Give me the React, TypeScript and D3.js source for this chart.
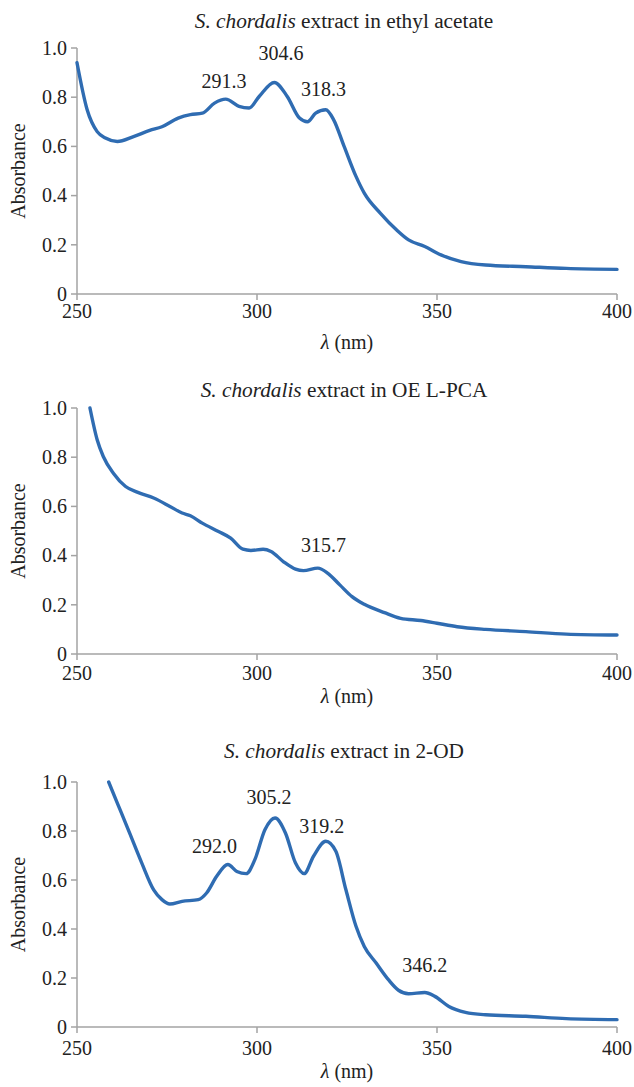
import * as d3 from "d3"

// wavelength (nm) / absorbance pairs
const eaNm = [250, 252.8, 255.6, 257.9, 261.2, 265.7, 270.2, 273.6, 278.1, 281.5, 284.8, 288.2, 291.3, 295, 297.8, 300.6, 304.8, 308.4, 311.8, 314, 316.3, 319.1, 321.3, 324.2, 327.5, 329.8, 334.3, 338.8, 342.1, 346.6, 351.1, 356.7, 363.5, 374.7, 385.9, 400]
const eaAbs = [0.94, 0.75, 0.66, 0.634, 0.62, 0.64, 0.665, 0.68, 0.715, 0.729, 0.735, 0.776, 0.792, 0.763, 0.756, 0.803, 0.86, 0.803, 0.715, 0.70, 0.735, 0.749, 0.708, 0.60, 0.478, 0.41, 0.328, 0.26, 0.22, 0.193, 0.159, 0.132, 0.118, 0.111, 0.104, 0.10]

const pcaNm = [253.6, 255.6, 257.3, 260.1, 263.5, 266.9, 271.3, 275.8, 279.2, 281.5, 284.8, 289.3, 292.7, 296.1, 298.3, 301.7, 303.9, 307.3, 310.7, 312.9, 316.9, 319.7, 323, 326.4, 329.8, 335.4, 339.9, 345.5, 350, 355.6, 363.5, 374.7, 385.9, 400]
const pcaAbs = [1.0, 0.871, 0.803, 0.735, 0.681, 0.657, 0.634, 0.60, 0.573, 0.562, 0.532, 0.498, 0.471, 0.426, 0.421, 0.426, 0.417, 0.376, 0.345, 0.339, 0.349, 0.328, 0.281, 0.233, 0.202, 0.168, 0.145, 0.136, 0.125, 0.111, 0.10, 0.091, 0.081, 0.077]

const odNm = [258.8, 261.2, 264.6, 268, 271.3, 273.6, 275.8, 279.2, 283.7, 286, 288.8, 291.9, 294.4, 297, 299.4, 302.2, 305, 307.9, 310.7, 313.1, 315.7, 319.1, 321.9, 324.7, 327.5, 329.8, 333.1, 336.5, 339.3, 342.1, 346.6, 349.4, 353.3, 357.9, 363.5, 374.7, 385.9, 400]
const odAbs = [1.0, 0.914, 0.792, 0.669, 0.56, 0.52, 0.502, 0.513, 0.52, 0.547, 0.615, 0.663, 0.635, 0.626, 0.683, 0.805, 0.853, 0.792, 0.669, 0.626, 0.697, 0.758, 0.717, 0.56, 0.411, 0.329, 0.261, 0.193, 0.15, 0.136, 0.141, 0.125, 0.084, 0.06, 0.05, 0.044, 0.034, 0.03]

// peak labels: text, anchor wavelength, anchor absorbance
const eaPeaks = ["291.3", "304.6", "318.3"]
const eaPeakNm = [290.8, 306.7, 318.5]
const eaPeakAbs = [0.839, 0.951, 0.803]

const pcaPeaks = ["315.7"]
const pcaPeakNm = [318.5]
const pcaPeakAbs = [0.415]

const odPeaks = ["292.0", "305.2", "319.2", "346.2"]
const odPeakNm = [288.2, 303.3, 318, 346.6]
const odPeakAbs = [0.71, 0.91, 0.792, 0.224]

const xTicks = [250, 300, 350, 400]
const yTicks = [0, 0.2, 0.4, 0.6, 0.8, 1.0]
const solvents = ["ethyl acetate", "OE L-PCA", "2-OD"]

const AXIS = "#a3a3a3"
const LINE = "#2f6cb2"
const txt = { fontFamily: "\"Liberation Serif\", serif", fontSize: 20, fill: "#222" }

interface PanelProps {
  solvent: string
  nm: number[]
  abs: number[]
  peaks: string[]
  peakNm: number[]
  peakAbs: number[]
  top: number
  bottom: number
  titleY: number
  tickY: number
  labelY: number
}

function Panel(p: PanelProps) {
  const x = d3.scaleLinear().domain([250, 400]).range([77, 617])
  const y = d3.scaleLinear().domain([0, 1]).range([p.bottom, p.top])
  const pts = p.nm.map((n, i) => [n, p.abs[i]] as [number, number])
  const line = d3.line<[number, number]>()
    .x(d => x(d[0]))
    .y(d => y(d[1]))
    .curve(d3.curveMonotoneX)

  return (
    <g>
      <text x={344} y={p.titleY} textAnchor="middle" style={{ ...txt, fontSize: 21.3 }}>
        <tspan fontStyle="italic">S. chordalis</tspan> extract in {p.solvent}
      </text>

      <line x1={x(250)} x2={x(250)} y1={y(1)} y2={y(0)} stroke={AXIS} strokeWidth={1.5} />
      <line x1={x(250)} x2={x(400)} y1={y(0)} y2={y(0)} stroke={AXIS} strokeWidth={1.5} />

      {yTicks.map(t => (
        <g key={"y" + t}>
          <line x1={x(250) - 6} x2={x(250)} y1={y(t)} y2={y(t)} stroke={AXIS} strokeWidth={1.5} />
          <text x={67} y={y(t)} dy="0.34em" textAnchor="end" style={txt}>
            {t === 0 ? "0" : t.toFixed(1)}
          </text>
        </g>
      ))}
      {xTicks.map(t => (
        <g key={"x" + t}>
          <line x1={x(t)} x2={x(t)} y1={y(0)} y2={y(0) + 6} stroke={AXIS} strokeWidth={1.5} />
          <text x={x(t)} y={p.tickY} textAnchor="middle" style={txt}>{t}</text>
        </g>
      ))}

      <text x={347} y={p.labelY} textAnchor="middle" style={txt}>
        <tspan fontStyle="italic">λ</tspan> (nm)
      </text>
      <text
        transform={`translate(25,${(p.top + p.bottom) / 2}) rotate(-90)`}
        textAnchor="middle" style={txt}
      >Absorbance</text>

      <path d={line(pts) || ""} fill="none" stroke={LINE} strokeWidth={3.4} strokeLinejoin="round" strokeLinecap="round" />

      {p.peaks.map((lab, i) => (
        <text key={lab} x={x(p.peakNm[i])} y={y(p.peakAbs[i])} textAnchor="middle" style={txt}>{lab}</text>
      ))}
    </g>
  )
}

export default function App() {
  return (
    <svg width={634} height={1087} style={{ position: "absolute", left: 0, top: 0, background: "#fff" }}>
      <Panel solvent={solvents[0]} nm={eaNm} abs={eaAbs} peaks={eaPeaks} peakNm={eaPeakNm} peakAbs={eaPeakAbs}
        top={48} bottom={294} titleY={28} tickY={318} labelY={349} />
      <Panel solvent={solvents[1]} nm={pcaNm} abs={pcaAbs} peaks={pcaPeaks} peakNm={pcaPeakNm} peakAbs={pcaPeakAbs}
        top={408} bottom={654} titleY={397} tickY={680} labelY={703} />
      <Panel solvent={solvents[2]} nm={odNm} abs={odAbs} peaks={odPeaks} peakNm={odPeakNm} peakAbs={odPeakAbs}
        top={782} bottom={1027} titleY={758} tickY={1055} labelY={1078} />
    </svg>
  )
}
